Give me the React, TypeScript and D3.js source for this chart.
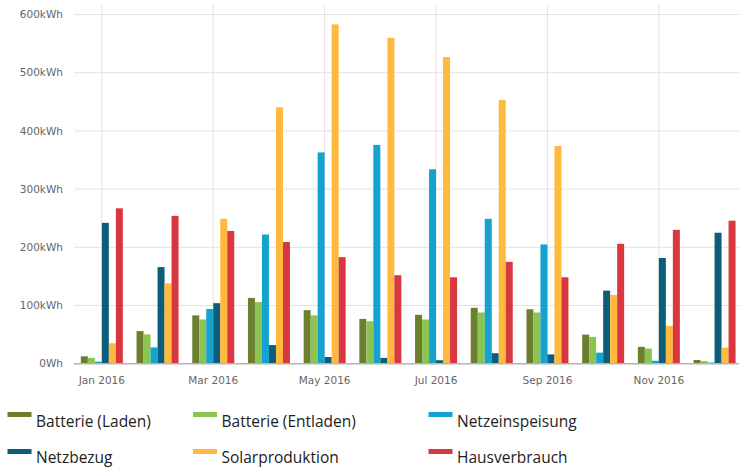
import React from "react";
import * as d3 from "d3";

const months = ["Jan", "Feb", "Mar", "Apr", "May", "Jun", "Jul", "Aug", "Sep", "Oct", "Nov", "Dec"];
const monthLabels = ["Jan 2016", "", "Mar 2016", "", "May 2016", "", "Jul 2016", "", "Sep 2016", "", "Nov 2016", ""];
const yTicks = [0, 100, 200, 300, 400, 500, 600];
const yTickLabels = ["0Wh", "100kWh", "200kWh", "300kWh", "400kWh", "500kWh", "600kWh"];

const seriesNames = ["Batterie (Laden)", "Batterie (Entladen)", "Netzeinspeisung", "Netzbezug", "Solarproduktion", "Hausverbrauch"];
const seriesColors = ["#6b7f2e", "#8cc453", "#14a3cf", "#0b5d79", "#ffb93c", "#d8373f"];

const batterieLaden = [12.7, 56, 83, 113, 92, 77, 84, 96, 93.5, 50, 29, 6.4];
const batterieEntladen = [10, 50.5, 76, 106, 83, 73, 76, 88, 88, 46, 26, 4.6];
const netzeinspeisung = [3.5, 28, 94, 222, 363, 376, 334, 249, 205, 19, 5, 2];
const netzbezug = [242, 166, 104, 32, 11.5, 10, 6, 18, 16, 125.5, 181.6, 225];
const solarproduktion = [35, 138, 249, 440.5, 583, 560, 527, 453, 374, 118, 65, 27.5];
const hausverbrauch = [267, 254, 228, 209, 183, 152, 148.5, 175, 148.5, 206, 230, 245.7];

const seriesValues = [batterieLaden, batterieEntladen, netzeinspeisung, netzbezug, solarproduktion, hausverbrauch];

export default function App() {
  const W = 739;
  const H = 468;
  const left = 74;
  const step = 55.7;
  const right = left + step * 12;
  const top = 5;

  const x0 = d3.scaleBand<string>().domain(months).range([left, right]).paddingInner(0.246).paddingOuter(0.123);
  const x1 = d3.scaleBand<number>().domain(d3.range(6)).range([0, x0.bandwidth()]).padding(0);
  const y = d3.scaleLinear().domain([0, 600]).range([363.7, 14.5]);

  const legendCols = [7.5, 193, 428.5];
  const legendBaselines = [426.5, 463];
  const legendSwatchY = [412, 449];

  return (
    <svg width={W} height={H} style={{ position: "absolute", left: 0, top: 0, background: "#fff" }}>
      <rect x={0} y={0} width={W} height={H} fill="#fff" />
      {yTicks.slice(1).map((t) => (
        <line key={"h" + t} x1={left} x2={W} y1={y(t)} y2={y(t)} stroke="#e3e3e3" strokeWidth={1} />
      ))}
      {months.map((m, i) =>
        monthLabels[i] ? (
          <line
            key={"v" + m}
            x1={x0(m)! + x0.bandwidth() / 2}
            x2={x0(m)! + x0.bandwidth() / 2}
            y1={top}
            y2={y(0)}
            stroke="#e3e3e3"
            strokeWidth={1}
          />
        ) : null
      )}
      {seriesValues.map((vals, s) =>
        vals.map((v, i) => (
          <rect
            key={s + "-" + i}
            x={x0(months[i])! + x1(s)!}
            y={y(v)}
            width={x1.bandwidth()}
            height={y(0) - y(v)}
            fill={seriesColors[s]}
          />
        ))
      )}
      <line x1={left} x2={W} y1={y(0)} y2={y(0)} stroke="#b3b3b3" strokeWidth={1.5} />
      {yTicks.map((t, i) => (
        <text
          key={"yl" + t}
          x={63}
          y={y(t)}
          dy="0.35em"
          textAnchor="end"
          fontFamily="DejaVu Sans, Verdana, sans-serif"
          fontSize={10.5}
          fill="#666"
        >
          {yTickLabels[i]}
        </text>
      ))}
      {months.map((m, i) =>
        monthLabels[i] ? (
          <text
            key={"xl" + m}
            x={x0(m)! + x0.bandwidth() / 2}
            y={380}
            dy="0.35em"
            textAnchor="middle"
            fontFamily="DejaVu Sans, Verdana, sans-serif"
            fontSize={10.5}
            fill="#666"
          >
            {monthLabels[i]}
          </text>
        ) : null
      )}
      {seriesNames.map((name, s) => {
        const col = s % 3;
        const row = Math.floor(s / 3);
        const lx = legendCols[col];
        return (
          <g key={"lg" + s}>
            <rect x={lx} y={legendSwatchY[row]} width={24} height={5} fill={seriesColors[s]} />
            <text
              x={lx + 28.5}
              y={legendBaselines[row]}
              fontFamily="Open Sans, sans-serif"
              fontSize={15.5}
              fill="#222"
            >
              {name}
            </text>
          </g>
        );
      })}
    </svg>
  );
}
